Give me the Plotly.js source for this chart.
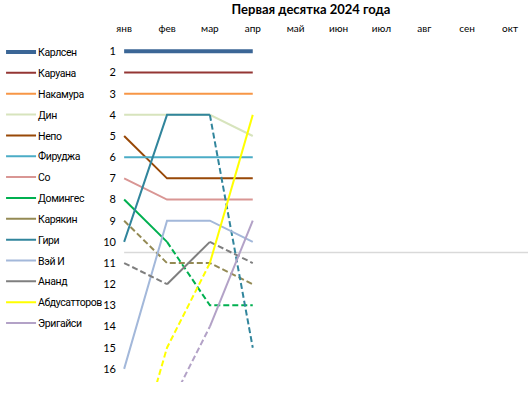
<!DOCTYPE html>
<html>
<head>
<meta charset="utf-8">
<script src="https://cdn.plot.ly/plotly-3.0.1.min.js"></script>
<style>html,body{margin:0;padding:0;background:#fff;}#chart{width:528px;height:394px;}
#chart .legendtext{letter-spacing:-0.4px;transform:translateX(-3px);}</style>
</head>
<body>
<div id="chart"></div>
<script>
// ---- data ----
const months = ['янв','фев','мар','апр','май','июн','июл','авг','сен','окт'];
const rankTicks = [1,2,3,4,5,6,7,8,9,10,11,12,13,14,15,16];
const TOP = 10; // segments ending below the top ten are dashed

const players = ['Карлсен','Каруана','Накамура','Дин','Непо','Фируджа','Со','Домингес','Карякин','Гири','Вэй И','Ананд','Абдусатторов','Эригайси'];
const carlsen      = [1, 1, 1, 1];
const caruana      = [2, 2, 2, 2];
const nakamura     = [3, 3, 3, 3];
const ding         = [4, 4, 4, 5];
const nepo         = [5, 7, 7, 7];
const firouzja     = [6, 6, 6, 6];
const so           = [7, 8, 8, 8];
const dominguez    = [8, 10, 13, 13];
const karjakin     = [9, 11, 11, 12];
const giri         = [10, 4, 4, 15];
const weiYi        = [16, 9, 9, 10];
const anand        = [11, 12, 10, 11];
const abdusattorov = [22, 15, 11, 4];
const erigaisi     = [18, 18, 14, 9];
const ranks = [carlsen, caruana, nakamura, ding, nepo, firouzja, so, dominguez, karjakin, giri, weiYi, anand, abdusattorov, erigaisi];

// ---- styles ----
const colors = ['#3B6696','#943634','#F79646','#D7E4BD','#984807','#4BACC6','#D99694','#00B050','#948A54','#31859C','#A3B8DA','#7F7F7F','#FFFF00','#B3A2C7'];
const widths = [4,2,2,2,2,2,2,2,2,2,2,2,2,2];

const traces = [];
players.forEach((name, p) => {
  const v = ranks[p];
  const sx = [], sy = [], dx = [], dy = [];
  for (let i = 0; i < v.length - 1; i++) {
    const dashed = v[i + 1] > TOP;
    const tx = dashed ? dx : sx;
    const ty = dashed ? dy : sy;
    if (tx.length && tx[tx.length - 1] === i) {
      tx.push(i + 1); ty.push(v[i + 1]);
    } else {
      if (tx.length) { tx.push(null); ty.push(null); }
      tx.push(i, i + 1); ty.push(v[i], v[i + 1]);
    }
  }
  traces.push({
    x: sx.length ? sx : [null], y: sy.length ? sy : [null],
    type: 'scatter', mode: 'lines', name: name, legendgroup: name,
    line: {color: colors[p], width: widths[p]}, hoverinfo: 'skip'
  });
  if (dx.length) traces.push({
    x: dx, y: dy, type: 'scatter', mode: 'lines', name: name, legendgroup: name,
    showlegend: false,
    line: {color: colors[p], width: widths[p], dash: '6px,3px'}, hoverinfo: 'skip'
  });
});

const layout = {
  width: 528, height: 394,
  margin: {l: 122, r: 0, t: 44.5, b: 12, pad: 0},
  paper_bgcolor: '#fff', plot_bgcolor: '#fff',
  font: {family: 'Lato, "Liberation Sans", sans-serif', color: '#000', size: 11},
  title: {text: '<b>Первая десятка 2024 года</b>', x: 311/528, xref: 'container', xanchor: 'center', y: 1 - 9/394, yref: 'container', yanchor: 'middle', font: {size: 13, color: '#000'}},
  showlegend: true,
  legend: {xref: 'container', yref: 'container', x: 0.002, y: 1 - 37.5/394, xanchor: 'left', yanchor: 'top', maxheight: 380,
           traceorder: 'grouped', tracegroupgap: 1.85, itemwidth: 30, font: {size: 10.5, color: '#000', family: 'Roboto, "Liberation Sans", sans-serif'}, bgcolor: 'rgba(0,0,0,0)'},
  xaxis: {range: [-0.05, 9.42], tickvals: months.map((m, i) => i), ticktext: months, side: 'top',
          showgrid: false, zeroline: false, showline: false, ticks: '', ticklabelstandoff: 10, tickfont: {size: 10}, fixedrange: true},
  yaxis: {range: [16.62, 0.7], tickvals: rankTicks, ticktext: rankTicks.map(String),
          showgrid: false, zeroline: false, showline: false, ticks: '', ticklabelstandoff: 5, tickfont: {size: 11}, fixedrange: true},
  shapes: [{type: 'line', xref: 'x', yref: 'y', x0: 0, x1: 9.42, y0: TOP + 0.5, y1: TOP + 0.5, line: {color: '#D9D9D9', width: 1.5}, layer: 'below'}]
};

Plotly.newPlot('chart', traces, layout, {displayModeBar: false, staticPlot: true});
</script>
</body>
</html>
